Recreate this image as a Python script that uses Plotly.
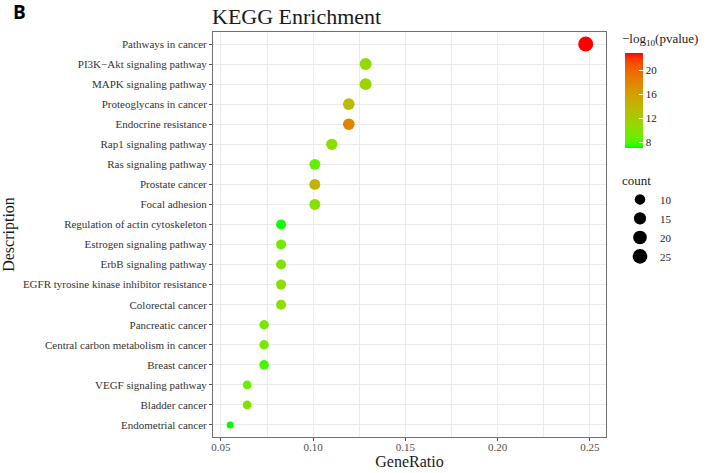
import numpy as np
import plotly.graph_objects as go

# KEGG pathway enrichment results
pathways = [
    "Pathways in cancer", "PI3K\u2212Akt signaling pathway", "MAPK signaling pathway",
    "Proteoglycans in cancer", "Endocrine resistance", "Rap1 signaling pathway",
    "Ras signaling pathway", "Prostate cancer", "Focal adhesion",
    "Regulation of actin cytoskeleton", "Estrogen signaling pathway",
    "ErbB signaling pathway", "EGFR tyrosine kinase inhibitor resistance",
    "Colorectal cancer", "Pancreatic cancer", "Central carbon metabolism in cancer",
    "Breast cancer", "VEGF signaling pathway", "Bladder cancer", "Endometrial cancer",
]
gene_ratio = [0.2477, 0.1284, 0.1284, 0.1193, 0.1193, 0.1101, 0.1009, 0.1009, 0.1009,
              0.0826, 0.0826, 0.0826, 0.0826, 0.0826, 0.0734, 0.0734, 0.0734,
              0.0642, 0.0642, 0.0550]
gene_count = [27, 14, 14, 13, 13, 12, 11, 11, 11, 9, 9, 9, 9, 9, 8, 8, 8, 7, 7, 6]
neg_log10_p = [22.9, 10.8, 11.3, 13.5, 18.0, 10.5, 8.5, 14.5, 10.0, 7.3,
               9.0, 10.0, 10.5, 10.5, 9.5, 9.5, 7.8, 9.0, 9.8, 7.1]
count_breaks = [10, 15, 20, 25]
color_ticks = [8, 12, 16, 20]

SERIF = "Liberation Serif"

# figure and panel geometry in pixels
W, H = 709, 473
ML, MR, MT, MB = 213, 103, 32, 36
PW, PH = W - ML - MR, H - MT - MB


def px_x(px):
    return (px - ML) / PW


def px_y(py):
    return (H - MB - py) / PH


# green -> red gradient interpolated in CIE Lab space
def _srgb_to_lab(rgb):
    c = np.array(rgb, dtype=float) / 255.0
    lin = np.where(c <= 0.04045, c / 12.92, ((c + 0.055) / 1.055) ** 2.4)
    m = np.array([[0.4124, 0.3576, 0.1805],
                  [0.2126, 0.7152, 0.0722],
                  [0.0193, 0.1192, 0.9505]])
    xyz = m @ lin / np.array([0.95047, 1.0, 1.08883])
    f = np.where(xyz > 0.008856, np.cbrt(xyz), 7.787 * xyz + 16 / 116)
    return np.array([116 * f[1] - 16, 500 * (f[0] - f[1]), 200 * (f[1] - f[2])])


def _lab_to_srgb(lab):
    L, a, b = lab
    fy = (L + 16) / 116
    fx = fy + a / 500
    fz = fy - b / 200
    f = np.array([fx, fy, fz])
    xyz = np.where(f ** 3 > 0.008856, f ** 3, (f - 16 / 116) / 7.787)
    xyz = xyz * np.array([0.95047, 1.0, 1.08883])
    minv = np.array([[3.2406, -1.5372, -0.4986],
                     [-0.9689, 1.8758, 0.0415],
                     [0.0557, -0.2040, 1.0570]])
    lin = np.clip(minv @ xyz, 0, 1)
    c = np.where(lin <= 0.0031308, 12.92 * lin, 1.055 * lin ** (1 / 2.4) - 0.055)
    r, g, bb = np.clip(np.round(c * 255), 0, 255).astype(int)
    return f"rgb({r},{g},{bb})"


lab_lo = _srgb_to_lab((0, 255, 0))
lab_hi = _srgb_to_lab((255, 0, 0))
colorscale = [[float(t), _lab_to_srgb(lab_lo + (lab_hi - lab_lo) * t)] for t in np.linspace(0, 1, 21)]

# point diameter: area-proportional mapping of gene count
c_min, c_max = min(gene_count), max(gene_count)


def diameter(c):
    return float(7 + 8 * np.sqrt((c - c_min) / (c_max - c_min)))


fig = go.Figure()

fig.add_trace(go.Scatter(
    x=gene_ratio, y=pathways, mode="markers", showlegend=False,
    marker=dict(
        size=[diameter(c) for c in gene_count],
        color=neg_log10_p, colorscale=colorscale,
        cmin=min(neg_log10_p), cmax=max(neg_log10_p),
        line=dict(width=0), opacity=1,
        colorbar=dict(
            x=px_x(625), xanchor="left", y=px_y(53), yanchor="top",
            thickness=18, len=95, lenmode="pixels",
            outlinewidth=0, tickvals=color_ticks,
            ticks="inside", ticklen=4, tickcolor="white", tickwidth=1,
            tickfont=dict(family=SERIF, size=11, color="#1a1a1a"),
            xpad=0, ypad=0,
        ),
    ),
    hovertemplate="%{y}<br>GeneRatio=%{x}<extra></extra>",
))

# size legend entries
for c in count_breaks:
    fig.add_trace(go.Scatter(
        x=[None], y=[None], mode="markers", name=str(c),
        marker=dict(size=diameter(c), color="black"),
        showlegend=True,
    ))

fig.update_layout(
    width=W, height=H,
    margin=dict(l=ML, r=MR, t=MT, b=MB, autoexpand=False),
    paper_bgcolor="white", plot_bgcolor="white",
    font=dict(family=SERIF, color="#1a1a1a"),
    legend=dict(
        title=dict(text="count", font=dict(family=SERIF, size=13, color="#1a1a1a")),
        x=px_x(620), xanchor="left", y=px_y(168), yanchor="top",
        itemsizing="trace", font=dict(family=SERIF, size=11, color="#1a1a1a"),
        bgcolor="rgba(0,0,0,0)", tracegroupgap=0, itemwidth=30,
    ),
    xaxis=dict(
        range=[0.0457, 0.2587], tickvals=[0.05, 0.10, 0.15, 0.20, 0.25],
        ticktext=["0.05", "0.10", "0.15", "0.20", "0.25"],
        showgrid=True, gridcolor="#EBEBEB", gridwidth=1,
        minor=dict(dtick=0.025, tick0=0.025, showgrid=True, gridcolor="#EBEBEB", gridwidth=0.6),
        zeroline=False, showline=True, linecolor="#707070", linewidth=1, mirror=True,
        ticks="outside", ticklen=3, tickcolor="#555555",
        ticklabelstandoff=-3,
        tickfont=dict(family=SERIF, size=11, color="#4D4D4D"),
        title=dict(text="GeneRatio", font=dict(family=SERIF, size=16, color="#1a1a1a"), standoff=0),
    ),
    yaxis=dict(
        categoryorder="array", categoryarray=pathways[::-1],
        range=[-0.6, len(pathways) - 0.4],
        showgrid=True, gridcolor="#EBEBEB", gridwidth=1,
        zeroline=False, showline=True, linecolor="#707070", linewidth=1, mirror=True,
        ticks="outside", ticklen=3, tickcolor="#555555",
        tickfont=dict(family=SERIF, size=11, color="#333333"),
        title=dict(text="Description", font=dict(family=SERIF, size=16, color="#1a1a1a"), standoff=6),
    ),
    annotations=[
        dict(text="KEGG Enrichment", xref="paper", yref="paper",
             x=px_x(210), y=px_y(16), xanchor="left", yanchor="middle",
             showarrow=False, font=dict(family=SERIF, size=22, color="#1a1a1a")),
        dict(text="<b>B</b>", xref="paper", yref="paper",
             x=px_x(11), y=px_y(12), xanchor="left", yanchor="middle",
             showarrow=False, font=dict(family="Open Sans", size=19, color="black")),
        dict(text="\u2212log<sub>10</sub>(pvalue)", xref="paper", yref="paper",
             x=px_x(620), y=px_y(40), xanchor="left", yanchor="middle",
             showarrow=False, font=dict(family=SERIF, size=13, color="#1a1a1a")),
    ],
)

fig.write_html("out.html")
